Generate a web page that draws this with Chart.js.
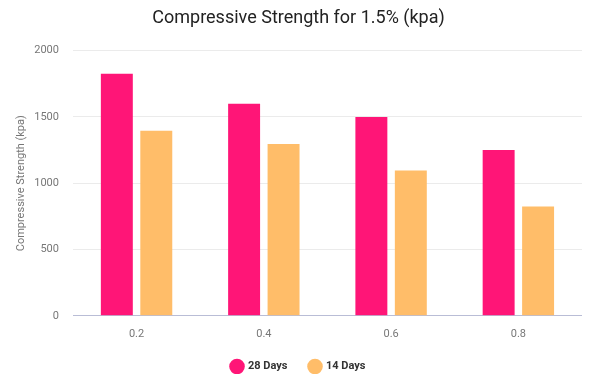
<!DOCTYPE html>
<html>
<head>
<meta charset="utf-8">
<script src="https://cdn.jsdelivr.net/npm/chart.js@4/dist/chart.umd.min.js"></script>
<style>
  html, body { margin: 0; padding: 0; background: #fff; }
  #wrap { width: 598px; height: 374px; }
</style>
</head>
<body>
<div id="wrap"><canvas id="c" width="598" height="374"></canvas></div>
<script>
// Fibre ratio categories and measured strengths (kpa)
const categories = ['0.2', '0.4', '0.6', '0.8'];
const days28 = [1825, 1600, 1500, 1250];
const days14 = [1395, 1295, 1095, 825];
const yTicks = [0, 500, 1000, 1500, 2000];

Chart.defaults.font.family = 'Roboto, "Noto Sans", sans-serif';

new Chart(document.getElementById('c'), {
  type: 'bar',
  data: {
    labels: categories,
    datasets: [
      { label: '28 Days', data: days28, backgroundColor: '#ff1577' },
      { label: '14 Days', data: days14, backgroundColor: '#ffbd69' }
    ]
  },
  options: {
    responsive: false,
    animation: false,
    devicePixelRatio: 1,
    categoryPercentage: 0.62,
    barPercentage: 0.81,
    layout: { padding: { left: 15, right: 16, top: 0, bottom: 0 } },
    plugins: {
      title: {
        display: true,
        text: 'Compressive Strength for 1.5% (kpa)',
        color: '#222',
        font: { size: 18, weight: 'normal' },
        padding: { top: 8, bottom: 21 }
      },
      legend: {
        position: 'bottom',
        maxHeight: 35,
        labels: {
          usePointStyle: true,
          pointStyle: 'circle',
          boxWidth: 11,
          boxHeight: 11,
          padding: 22,
          color: '#333',
          font: { size: 11, weight: 'bold' }
        }
      },
      tooltip: { enabled: false }
    },
    scales: {
      x: {
        grid: { display: false, drawTicks: false },
        border: { display: false },
        ticks: { color: '#777', font: { size: 11 }, padding: 12 },
        afterFit: (axis) => { axis.height -= 14; }
      },
      y: {
        min: 0,
        max: 2000,
        afterBuildTicks: (axis) => { axis.ticks = yTicks.map(v => ({ value: v })); },
        grid: {
          drawTicks: false,
          color: (ctx) => (ctx.tick && ctx.tick.value === 0) ? '#b9bdd6' : '#ebebeb'
        },
        border: { display: false },
        ticks: { color: '#777', font: { size: 11 }, padding: 14, callback: (v) => String(v) },
        title: {
          display: true,
          text: 'Compressive Strength (kpa)',
          color: '#777',
          font: { size: 11 },
          padding: { top: 0, bottom: 6 }
        },
        afterFit: (axis) => { axis.width -= 14; }
      }
    }
  }
});
</script>
</body>
</html>
